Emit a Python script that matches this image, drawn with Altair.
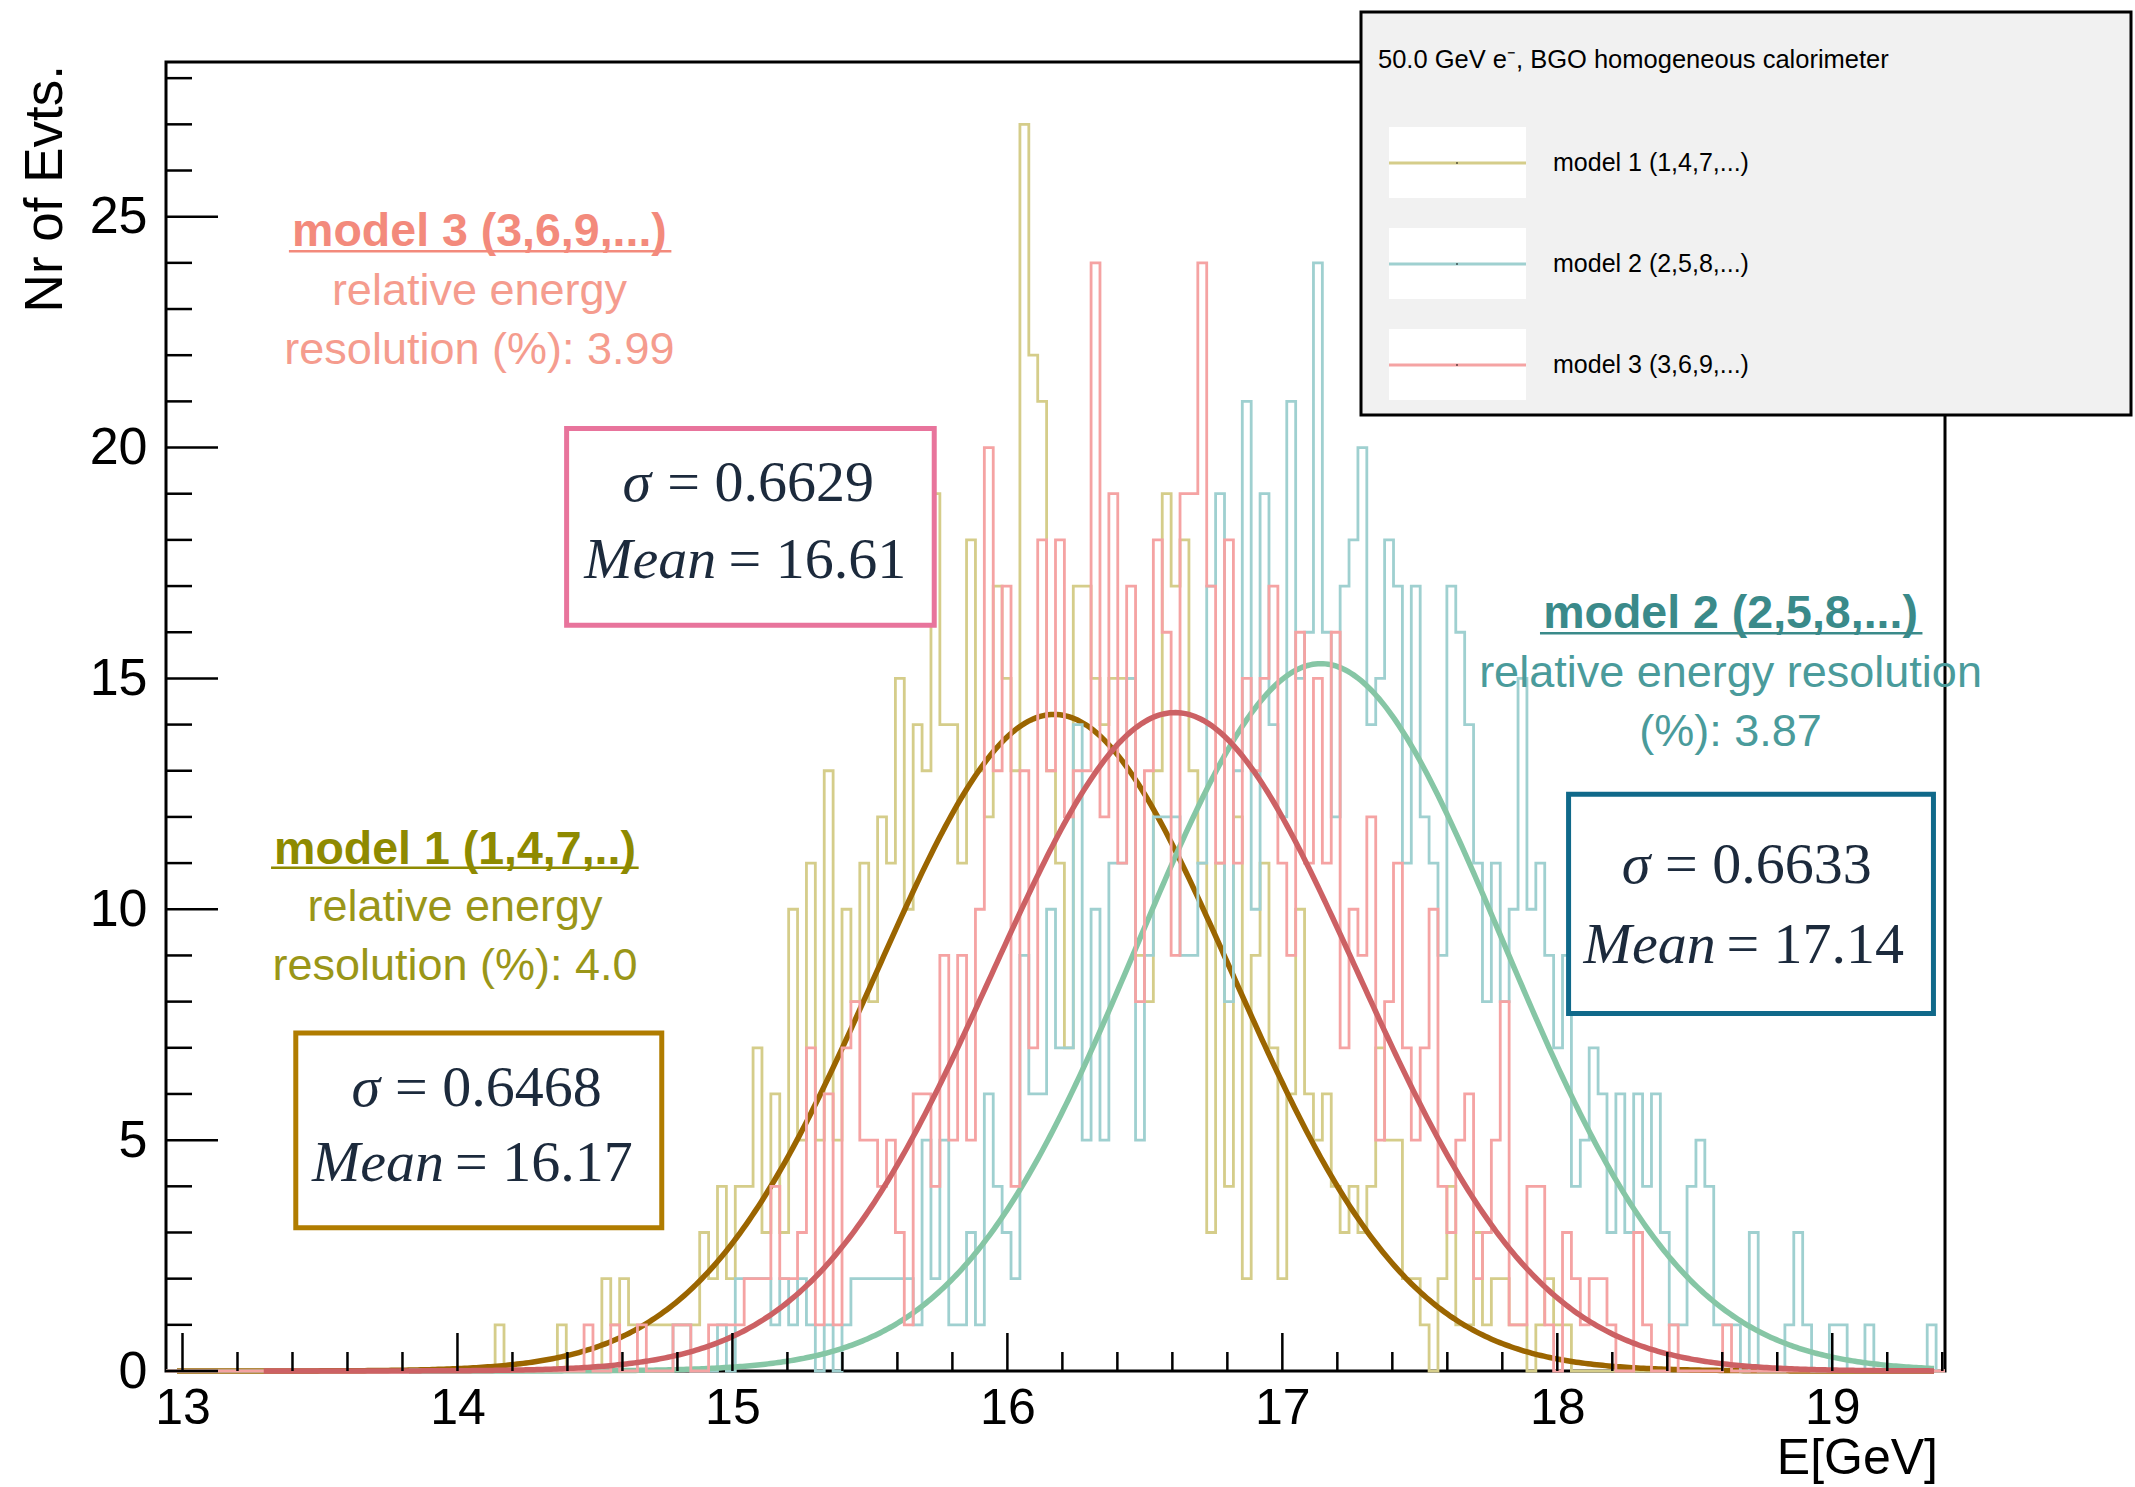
import altair as alt
import numpy as np
import pandas as pd

# ---- binning of the energy histograms -------------------------------------
E_MIN, E_MAX, N_BINS = 12.94, 19.41, 200
BIN_W = (E_MAX - E_MIN) / N_BINS
Y_MAX = 28.35

model_names = ["model 1 (1,4,7,...)", "model 2 (2,5,8,...)", "model 3 (3,6,9,...)"]

# bin contents, listed from the first non-empty bin index of each model
first_bin = [37, 57, 47]
counts_m1 = [1, 0, 0, 0, 0, 0, 0, 1, 0, 0, 0, 0, 2, 1, 2, 1, 1, 1, 1, 1, 1, 1, 1, 3, 2,
             4, 2, 4, 4, 7, 3, 6, 3,
             10, 5, 11, 5, 13, 5, 10, 8, 11, 8,
             12, 11, 15, 10, 14, 13, 19, 14, 14, 11,
             18, 13, 12, 17, 15, 13, 27, 22, 21, 13,
             11, 7, 17, 17, 15, 14, 15, 15, 15, 9,
             8, 13, 19, 17, 18, 13, 11, 3, 11, 4,
             12, 2, 9, 11, 7, 2, 6, 10, 6, 5,
             6, 4, 3, 4, 3, 4, 7, 5, 5, 2,
             2, 1, 0, 2, 4, 1, 1, 3, 1, 2,
             2, 1, 1, 0, 1, 2, 1, 1]
counts_m2 = [1, 1, 0, 0, 0, 1, 0, 2, 2, 2, 2, 1, 2,
             1, 2, 1, 0, 1, 0, 1, 2, 2, 2,
             2, 2, 2, 2, 1, 5, 2, 5, 1, 1,
             3, 1, 6, 4, 3, 2, 9, 6, 6, 10,
             7, 7, 14, 5, 10, 5, 11, 11, 15, 5,
             9, 12, 12, 12, 9, 9, 11, 17, 19, 8,
             13, 21, 10, 19, 14, 12, 21, 15, 16, 24,
             16, 12, 17, 18, 20, 14, 15, 18, 17, 11,
             17, 12, 11, 9, 17, 16, 14, 11, 8, 11,
             8, 10, 15, 10, 11, 9, 7, 9, 4, 5,
             7, 6, 3, 6, 3, 6, 4, 6, 3, 1,
             1, 4, 5, 4, 1, 1, 1, 0, 3, 0,
             0, 0, 1, 3, 1, 0, 0, 1, 1, 0,
             0, 1, 0, 0, 0, 0, 0, 0, 1]
counts_m3 = [1, 0, 0, 1, 0, 0, 1, 0, 0, 0, 1, 1, 0,
             0, 1, 1, 1, 1, 2, 2, 2, 4, 2,
             2, 3, 7, 1, 6, 1, 7, 8, 5, 5,
             4, 5, 3, 1, 6, 6, 4, 9, 5, 9,
             5, 10, 20, 13, 17, 4, 13, 7, 18, 13,
             18, 12, 13, 13, 24, 12, 19, 11, 17, 8,
             13, 18, 16, 9, 19, 19, 24, 17, 11, 18,
             11, 15, 13, 15, 17, 11, 9, 16, 11, 15,
             11, 16, 7, 10, 9, 12, 5, 8, 11, 7,
             5, 7, 10, 4, 3, 5, 6, 2, 3, 5,
             8, 1, 1, 4, 4, 1, 0, 3, 2, 1,
             2, 2, 1, 0, 0, 3, 1, 0, 0, 1,
             0, 0, 0, 0, 0, 1]

# Gaussian fit results
fit_mean = [16.17, 17.14, 16.61]
fit_sigma = [0.6468, 0.6633, 0.6629]
fit_peak = [14.22, 15.32, 14.26]
resolution = ["4.0", "3.87", "3.99"]

# axis ticks
x_major = [13, 14, 15, 16, 17, 18, 19]
x_minor = [13.2, 13.4, 13.6, 13.8, 14.2, 14.4, 14.6, 14.8, 15.2, 15.4, 15.6, 15.8,
           16.2, 16.4, 16.6, 16.8, 17.2, 17.4, 17.6, 17.8, 18.2, 18.4, 18.6, 18.8,
           19.2, 19.4]
y_major = [0, 5, 10, 15, 20, 25]
y_minor = [1, 2, 3, 4, 6, 7, 8, 9, 11, 12, 13, 14, 16, 17, 18, 19, 21, 22, 23, 24,
           26, 27, 28]

# ---- styling ----------------------------------------------------------------
W, H = 1779, 1309
hist_colors = ["#d5cd8a", "#9fd0d0", "#f5a3a3"]
fit_colors = ["#9b6500", "#86c6a5", "#cc6164"]
box_colors = ["#b07c00", "#10698a", "#e8749c"]
title_colors = ["#8e8a00", "#3a8a8a", "#f38a7c"]
text_colors = ["#9a9618", "#4a9b9b", "#f59c8e"]
SANS = "Liberation Sans"
SERIF = "Liberation Serif"

xs = alt.Scale(domain=[E_MIN, E_MAX], nice=False, zero=False)
ys = alt.Scale(domain=[0, Y_MAX], nice=False, zero=True)
AX_X = alt.Axis(values=x_major, format="d", labelFontSize=50, labelFont=SANS,
                labelColor="black", ticks=False, domain=False, grid=False,
                labelPadding=12, labelFlush=False, labelOverlap=False, title=None)
AX_Y = alt.Axis(values=y_major, format="d", labelFontSize=52, labelFont=SANS,
                labelColor="black", ticks=False, domain=False, grid=False,
                labelPadding=19, labelFlush=False, labelOverlap=False, title=None)


def X(field="E"):
    return alt.X(f"{field}:Q", scale=xs, axis=AX_X)


def Y(field="N"):
    return alt.Y(f"{field}:Q", scale=ys, axis=AX_Y)


def hist_frame(first, counts):
    full = [0] * N_BINS
    full[first:first + len(counts)] = counts
    edges = E_MIN + BIN_W * np.arange(N_BINS + 1)
    return pd.DataFrame({"E": edges, "N": full + [full[-1]]})


def fit_frame(mu, sigma, peak):
    lo = max(mu - 5 * sigma, 12.98)
    hi = min(mu + 5 * sigma, 19.37)
    e = np.linspace(lo, hi, 600)
    return pd.DataFrame({"E": e, "N": peak * np.exp(-0.5 * ((e - mu) / sigma) ** 2)})


def hist_layer(i, counts):
    return alt.Chart(hist_frame(first_bin[i], counts)).mark_line(
        interpolate="step-after", color=hist_colors[i], strokeWidth=2.8
    ).encode(x=X(), y=Y())


def fit_layer(i):
    return alt.Chart(fit_frame(fit_mean[i], fit_sigma[i], fit_peak[i])).mark_line(
        color=fit_colors[i], strokeWidth=5.5
    ).encode(x=X(), y=Y())


def text_at(e, n, s, **mark):
    df = pd.DataFrame({"E": [e], "N": [n], "t": [s]})
    return alt.Chart(df).mark_text(**mark).encode(x=X(), y=Y(), text="t:N")


def rule_h(e0, e1, n, color, width):
    df = pd.DataFrame({"E": [e0], "E2": [e1], "N": [n]})
    return alt.Chart(df).mark_rule(color=color, strokeWidth=width).encode(
        x=X(), x2="E2:Q", y=Y())


def frame_box(e0, e1, n0, n1, color):
    df = pd.DataFrame({"E": [e0], "E2": [e1], "N": [n0], "N2": [n1]})
    return alt.Chart(df).mark_rect(fill="white", stroke=color, strokeWidth=5).encode(
        x=X(), x2="E2:Q", y=Y(), y2="N2:Q")


layers = []

# histograms and fitted Gaussians
all_counts = [counts_m1, counts_m2, counts_m3]
for i in range(3):
    layers.append(hist_layer(i, all_counts[i]))
    layers.append(fit_layer(i))

# inward ticks, ROOT style
layers.append(alt.Chart(pd.DataFrame({"E": x_major})).mark_rule(color="black", strokeWidth=2.5)
              .encode(x=X(), y=alt.value(H), y2=alt.value(H - 38)))
layers.append(alt.Chart(pd.DataFrame({"E": x_minor})).mark_rule(color="black", strokeWidth=2.5)
              .encode(x=X(), y=alt.value(H), y2=alt.value(H - 19)))
layers.append(alt.Chart(pd.DataFrame({"N": y_major})).mark_rule(color="black", strokeWidth=2.5)
              .encode(y=Y(), x=alt.value(0), x2=alt.value(52)))
layers.append(alt.Chart(pd.DataFrame({"N": y_minor})).mark_rule(color="black", strokeWidth=2.5)
              .encode(y=Y(), x=alt.value(0), x2=alt.value(26)))

# fit result boxes: (left, right, bottom, top, sigma line, mean line)
boxes = [
    dict(e=(13.412, 14.743), n=(3.10, 7.32), s_end=13.719, s_eq=13.773, s_y=6.11,
         m_end=13.951, m_eq=13.991, m_y=4.49),
    dict(e=(18.041, 19.368), n=(7.74, 12.49), s_end=18.338, s_eq=18.392, s_y=10.93,
         m_end=18.576, m_eq=18.615, m_y=9.21),
    dict(e=(14.397, 15.734), n=(16.15, 20.41), s_end=14.704, s_eq=14.763, s_y=19.20,
         m_end=14.941, m_eq=14.986, m_y=17.54),
]
INK = "#1c2a3c"
for i, b in enumerate(boxes):
    layers.append(frame_box(b["e"][0], b["e"][1], b["n"][0], b["n"][1], box_colors[i]))
    layers.append(text_at(b["s_end"], b["s_y"], "σ", font=SERIF, fontStyle="italic",
                          fontSize=58, align="right", baseline="middle", color=INK))
    layers.append(text_at(b["s_eq"], b["s_y"], f"= {fit_sigma[i]:.4f}", font=SERIF,
                          fontSize=58, align="left", baseline="middle", color=INK))
    layers.append(text_at(b["m_end"], b["m_y"], "Mean", font=SERIF, fontStyle="italic",
                          fontSize=58, align="right", baseline="middle", color=INK))
    layers.append(text_at(b["m_eq"], b["m_y"], f"= {fit_mean[i]:.2f}", font=SERIF,
                          fontSize=58, align="left", baseline="middle", color=INK))

# model descriptions: (centre energy, title y, underline span, underline y, lines)
notes = [
    dict(e=13.991, ty=11.28, ul=(13.322, 14.659), uy=10.90,
         title="model 1 (1,4,7,..)",
         lines=[("relative energy", 10.04), (f"resolution (%): {resolution[0]}", 8.77)]),
    dict(e=18.63, ty=16.39, ul=(17.937, 19.328), uy=15.98,
         title="model 2 (2,5,8,...)",
         lines=[("relative energy resolution", 15.12), (f"(%): {resolution[1]}", 13.85)]),
    dict(e=14.08, ty=24.66, ul=(13.387, 14.778), uy=24.25,
         title="model 3 (3,6,9,...)",
         lines=[("relative energy", 23.39), (f"resolution (%): {resolution[2]}", 22.12)]),
]
for i, nt in enumerate(notes):
    layers.append(text_at(nt["e"], nt["ty"], nt["title"], font=SANS, fontWeight="bold",
                          fontSize=46.5, align="center", baseline="middle",
                          color=title_colors[i]))
    layers.append(rule_h(nt["ul"][0], nt["ul"][1], nt["uy"], title_colors[i], 2.5))
    for s, n in nt["lines"]:
        layers.append(text_at(nt["e"], n, s, font=SANS, fontSize=45, align="center",
                              baseline="middle", color=text_colors[i]))

# legend panel
one = pd.DataFrame({"k": [0]})
layers.append(alt.Chart(one).mark_rect(fill="#f1f1f1", stroke="black", strokeWidth=3)
              .encode(x=alt.value(1195), x2=alt.value(1965), y=alt.value(-50), y2=alt.value(353)))
layers.append(alt.Chart(one).mark_text(align="left", baseline="middle", fontSize=25.5, font=SANS,
                                       color="black")
              .encode(x=alt.value(1212), y=alt.value(-2),
                      text=alt.value("50.0 GeV e⁻, BGO homogeneous calorimeter")))
for i, ly in enumerate([101, 202, 303]):
    layers.append(alt.Chart(one).mark_rect(fill="white")
                  .encode(x=alt.value(1223), x2=alt.value(1360),
                          y=alt.value(ly - 36), y2=alt.value(ly + 35)))
    layers.append(alt.Chart(one).mark_rule(color=hist_colors[i], strokeWidth=3)
                  .encode(x=alt.value(1223), x2=alt.value(1360), y=alt.value(ly)))
    layers.append(alt.Chart(one).mark_point(shape="square", size=3, filled=True, color="black")
                  .encode(x=alt.value(1291), y=alt.value(ly)))
    layers.append(alt.Chart(one).mark_text(align="left", baseline="middle", fontSize=25,
                                           font=SANS, color="black")
                  .encode(x=alt.value(1387), y=alt.value(ly), text=alt.value(model_names[i])))

# axis titles
layers.append(alt.Chart(one).mark_text(align="right", baseline="alphabetic", fontSize=50,
                                       font=SANS, color="black")
              .encode(x=alt.value(W - 7), y=alt.value(H + 103), text=alt.value("E[GeV]")))
layers.append(alt.Chart(one).mark_text(align="right", baseline="alphabetic", fontSize=53,
                                       font=SANS, color="black", angle=270)
              .encode(x=alt.value(-104), y=alt.value(3), text=alt.value("Nr of Evts.")))

chart = alt.layer(*layers).properties(
    width=W, height=H,
    autosize=alt.AutoSizeParams(type="none"),
    padding={"left": 166, "top": 62, "right": 190, "bottom": 116},
    background="white",
).configure_view(stroke="black", strokeWidth=3)

chart.save("out.html", embed_options={"renderer": "svg", "actions": False})
